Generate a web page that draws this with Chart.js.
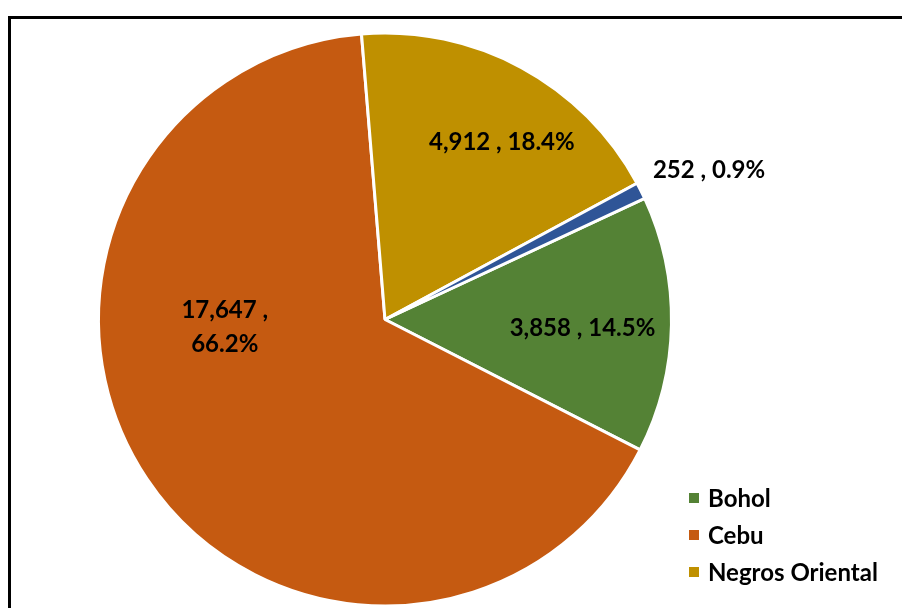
<!DOCTYPE html>
<html>
<head>
<meta charset="utf-8">
<script src="https://cdn.jsdelivr.net/npm/chart.js@4"></script>
<style>
  html, body { margin: 0; padding: 0; background: #fff; overflow: hidden; }
  #wrap { position: relative; width: 902px; height: 608px; overflow: hidden; }
  #frame { position: absolute; left: 8px; top: 16px; width: 1000px; height: 700px; border: 3px solid #000; }
  #holder { position: absolute; left: 0; top: 0; width: 902px; height: 650px; }
</style>
</head>
<body>
<div id="wrap">
  <div id="frame"></div>
  <div id="holder"><canvas id="pieChart"></canvas></div>
</div>
<script>
// Provinces and counts
const provinces = ['Bohol', 'Cebu', 'Negros Oriental', 'Siquijor'];
const counts = [3858, 17647, 4912, 252];
const colors = ['#548235', '#C55A11', '#BF9000', '#2F5597'];
// label placement per slice: [angle shift in degrees, fraction of radius]
const labelPlace = [[1.5, 0.69], [31, 0.56], [5, 0.74], [2, 1.245]];

const FONT = 'Lato, Carlito, sans-serif';

const labelPlugin = {
    id: 'sliceLabels',
    afterDatasetsDraw(chart) {
        const ctx = chart.ctx;
        const meta = chart.getDatasetMeta(0);
        const total = counts.reduce((a, b) => a + b, 0);
        ctx.save();
        ctx.font = 'bold 24px ' + FONT;
        ctx.fillStyle = '#000';
        ctx.textAlign = 'center';
        ctx.textBaseline = 'middle';
        meta.data.forEach((arc, i) => {
            const p = arc.getProps(['x', 'y', 'startAngle', 'endAngle', 'outerRadius'], true);
            const mid = (p.startAngle + p.endAngle) / 2 + labelPlace[i][0] * Math.PI / 180;
            const r = p.outerRadius * labelPlace[i][1];
            const x = p.x + Math.cos(mid) * r;
            const y = p.y + Math.sin(mid) * r;
            const num = counts[i].toLocaleString('en-US');
            const pct = (counts[i] / total * 100).toFixed(1) + '%';
            if (i === 1) {
                ctx.fillText(num + ' ,', x, y - 17);
                ctx.fillText(pct, x, y + 17);
            } else {
                ctx.fillText(num + ' , ' + pct, x, y);
            }
        });
        ctx.restore();
    }
};

const legendPlugin = {
    id: 'sideLegend',
    afterDraw(chart) {
        const ctx = chart.ctx;
        const left = chart.chartArea.right + 16;
        ctx.save();
        ctx.font = 'bold 24px ' + FONT;
        ctx.textBaseline = 'middle';
        ctx.textAlign = 'left';
        provinces.forEach((name, i) => {
            const y = 498 + i * 37;
            if (y + 12 > 608) return; // row falls below the visible frame
            ctx.fillStyle = colors[i];
            ctx.fillRect(left, y - 5, 10, 10);
            ctx.fillStyle = '#000';
            ctx.fillText(name, left + 19, y + 1);
        });
        ctx.restore();
    }
};

const ctx = document.getElementById('pieChart').getContext('2d');
new Chart(ctx, {
    type: 'pie',
    data: {
        labels: provinces,
        datasets: [{
            data: counts,
            backgroundColor: colors,
            borderColor: '#ffffff',
            borderWidth: 3
        }]
    },
    options: {
        responsive: true,
        maintainAspectRatio: false,
        animation: false,
        rotation: 65,
        layout: {
            padding: { left: 97, right: 229, top: 31, bottom: 42 }
        },
        plugins: {
            legend: { display: false },
            tooltip: { enabled: false }
        }
    },
    plugins: [labelPlugin, legendPlugin]
});
</script>
</body>
</html>
